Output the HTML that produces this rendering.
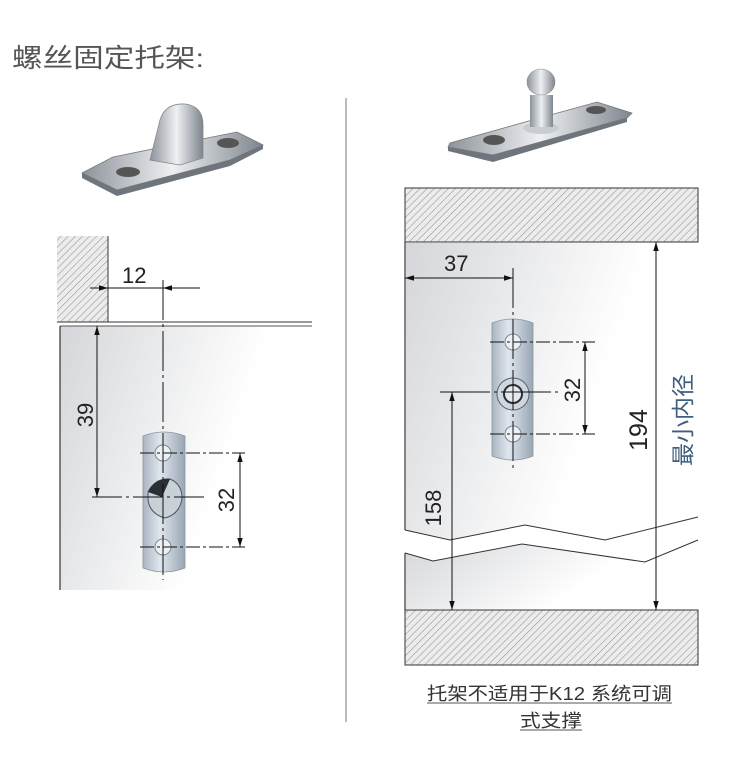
<!DOCTYPE html>
<html><head><meta charset="utf-8"><style>
html,body{margin:0;padding:0;background:#fff;}
svg{display:block;}
text{font-family:"Liberation Sans","Noto Sans CJK SC",sans-serif;}
</style></head><body>
<svg width="730" height="777" viewBox="0 0 730 777" xmlns="http://www.w3.org/2000/svg">
<defs>
<pattern id="h" width="5" height="5" patternUnits="userSpaceOnUse" patternTransform="rotate(45)">
<rect width="5" height="5" fill="#ececec"/><line x1="0" y1="0" x2="0" y2="5" stroke="#9a9a9a" stroke-width="1.2"/>
</pattern>
<linearGradient id="pg" x1="0" y1="0" x2="1" y2="0.35">
<stop offset="0" stop-color="#d4d6d9"/><stop offset="0.75" stop-color="#ffffff"/>
</linearGradient>
<linearGradient id="bg" x1="0" y1="0" x2="1" y2="0">
<stop offset="0" stop-color="#aab4c0"/><stop offset="0.4" stop-color="#dfe6ee"/><stop offset="1" stop-color="#9aa6b4"/>
</linearGradient>
<linearGradient id="mg" x1="0" y1="0" x2="1" y2="0">
<stop offset="0" stop-color="#8d939a"/><stop offset="0.5" stop-color="#eef0f2"/><stop offset="1" stop-color="#7e858d"/>
</linearGradient>
<marker id="a" viewBox="0 0 10 10" refX="10" refY="5" markerWidth="9" markerHeight="9" orient="auto-start-reverse" markerUnits="userSpaceOnUse">
<path d="M0,2 L10,5 L0,8 z" fill="#111"/></marker>
</defs>

<text x="12" y="67" font-size="26" fill="#555" textLength="192" lengthAdjust="spacingAndGlyphs">螺丝固定托架:</text>

<!-- left bracket 3D -->
<polygon points="82,173 113,157 237,132 263,145 230,160 117,190" fill="url(#mg)" stroke="#777" stroke-width="0.8"/>
<polygon points="82,173 117,190 230,160 263,145 263,149 230,166 117,196 82,178" fill="#6f757c"/>
<ellipse cx="128" cy="172" rx="12" ry="5" fill="#555"/>
<ellipse cx="228" cy="143" rx="11" ry="5" fill="#555"/>
<path d="M150,160 L160,120 Q165,103 185,104 Q203,106 203,125 L203,158 L180,165 Z" fill="url(#mg)" stroke="#888" stroke-width="0.8"/>

<!-- left section -->
<rect x="57" y="236" width="51" height="86" fill="url(#h)"/>
<line x1="108" y1="236" x2="108" y2="322" stroke="#333" stroke-width="1"/>
<polygon points="60,326 312,326 312,590 60,590" fill="url(#pg)"/>
<line x1="57" y1="322" x2="312" y2="322" stroke="#333" stroke-width="1"/>
<line x1="60" y1="326" x2="312" y2="326" stroke="#555" stroke-width="1"/>
<line x1="60" y1="326" x2="60" y2="590" stroke="#333" stroke-width="1.2"/>

<!-- bracket front left -->
<path d="M143,436 Q164,428 185,436 L185,568 Q164,576 143,568 Z" fill="url(#bg)" stroke="#8a96a4" stroke-width="0.8"/>
<circle cx="163" cy="453" r="8" fill="#eef1f4" stroke="#7d8894"/>
<circle cx="163" cy="547" r="8" fill="#eef1f4" stroke="#7d8894"/>
<path d="M148,492 Q155,478 170,479 Q182,484 182,498 Q180,514 165,518 Q150,514 148,500 Z" fill="#c8d0d8" stroke="#4a5460"/>
<path d="M148,492 Q155,478 170,479 L162,497 Z" fill="#2a2f36"/>

<!-- left dims -->
<line x1="163" y1="280" x2="163" y2="580" stroke="#111" stroke-width="1" stroke-dasharray="40,4,3,4"/>
<line x1="90" y1="288" x2="108" y2="288" stroke="#111" marker-end="url(#a)"/>
<line x1="108" y1="288" x2="163" y2="288" stroke="#111"/>
<line x1="200" y1="288" x2="163" y2="288" stroke="#111" marker-end="url(#a)"/>
<text x="122" y="283" font-size="22" fill="#222">12</text>
<line x1="97" y1="326" x2="97" y2="497" stroke="#111" marker-start="url(#a)" marker-end="url(#a)"/>
<line x1="92" y1="497" x2="205" y2="497" stroke="#111" stroke-dasharray="30,4,3,4"/>
<text transform="translate(93,415) rotate(-90)" font-size="22" fill="#222" text-anchor="middle">39</text>
<line x1="140" y1="453" x2="245" y2="453" stroke="#111" stroke-dasharray="14,3,3,3"/>
<line x1="140" y1="547" x2="245" y2="547" stroke="#111" stroke-dasharray="14,3,3,3"/>
<line x1="240" y1="453" x2="240" y2="547" stroke="#111" marker-start="url(#a)" marker-end="url(#a)"/>
<text transform="translate(234,500) rotate(-90)" font-size="22" fill="#222" text-anchor="middle">32</text>

<!-- divider -->
<line x1="346" y1="98" x2="346" y2="722" stroke="#bbb" stroke-width="2"/>

<!-- right bracket 3D -->
<polygon points="448,147 450,143 597,102 632,113 627,118 493,155" fill="url(#mg)" stroke="#777" stroke-width="0.8"/>
<polygon points="448,147 493,155 627,118 627,122 493,162 448,151" fill="#6f757c"/>
<ellipse cx="494" cy="140" rx="11" ry="5" fill="#555"/>
<ellipse cx="596" cy="110" rx="10" ry="4" fill="#555"/>
<ellipse cx="541" cy="128" rx="18" ry="6" fill="#c9ccd0"/>
<rect x="530" y="95" width="23" height="32" fill="url(#mg)"/>
<ellipse cx="541" cy="82" rx="14" ry="13" fill="url(#mg)" stroke="#888" stroke-width="0.6"/>

<!-- right section -->
<rect x="405" y="188" width="293" height="54" fill="url(#h)" stroke="#333" stroke-width="1"/>
<rect x="405" y="610" width="293" height="55" fill="url(#h)" stroke="#333" stroke-width="1"/>
<polygon points="406,243 698,243 698,517 605,540 525,525 450,540 406,530" fill="url(#pg)"/>
<polygon points="406,553 433,561 522,544 645,562 698,540 698,609 406,609" fill="url(#pg)"/>
<line x1="405" y1="242" x2="405" y2="530" stroke="#333" stroke-width="1.2"/>
<line x1="405" y1="553" x2="405" y2="610" stroke="#333" stroke-width="1.2"/>
<polyline points="405,530 450,540 525,525 605,540 698,517" fill="none" stroke="#333" stroke-width="1"/>
<polyline points="405,553 433,561 522,544 645,562 698,540" fill="none" stroke="#333" stroke-width="1"/>

<!-- bracket front right -->
<path d="M492,323 Q513,315 533,323 L533,456 Q513,464 492,456 Z" fill="url(#bg)" stroke="#8a96a4" stroke-width="0.8"/>
<circle cx="513" cy="342" r="8" fill="#eef1f4" stroke="#7d8894"/>
<circle cx="513" cy="434" r="8" fill="#eef1f4" stroke="#7d8894"/>
<circle cx="513" cy="394" r="16" fill="#cfd6de" stroke="#55606c"/>
<circle cx="513" cy="394" r="9" fill="#e6eaee" stroke="#2a2f36" stroke-width="2"/>

<!-- right dims -->
<line x1="513" y1="268" x2="513" y2="470" stroke="#111" stroke-dasharray="40,4,3,4"/>
<line x1="405" y1="278" x2="513" y2="278" stroke="#111" marker-start="url(#a)" marker-end="url(#a)"/>
<text x="444" y="271" font-size="22" fill="#222">37</text>
<line x1="490" y1="342" x2="595" y2="342" stroke="#111" stroke-dasharray="14,3,3,3"/>
<line x1="490" y1="434" x2="595" y2="434" stroke="#111" stroke-dasharray="14,3,3,3"/>
<line x1="585" y1="342" x2="585" y2="434" stroke="#111" marker-start="url(#a)" marker-end="url(#a)"/>
<text transform="translate(580,390) rotate(-90)" font-size="22" fill="#222" text-anchor="middle">32</text>
<line x1="440" y1="392" x2="560" y2="392" stroke="#111" stroke-dasharray="50,4,3,4"/>
<line x1="452" y1="392" x2="452" y2="610" stroke="#111" marker-start="url(#a)" marker-end="url(#a)"/>
<text transform="translate(441,508) rotate(-90)" font-size="22" fill="#222" text-anchor="middle">158</text>
<line x1="656" y1="242" x2="656" y2="610" stroke="#111" marker-start="url(#a)" marker-end="url(#a)"/>
<text transform="translate(647,430) rotate(-90)" font-size="25" fill="#222" text-anchor="middle">194</text>
<text transform="translate(691,420) rotate(-90)" font-size="23" fill="#3f5f7f" text-anchor="middle">最小内径</text>

<!-- caption -->
<text x="427" y="700" font-size="18" fill="#333" textLength="245" lengthAdjust="spacingAndGlyphs">托架不适用于K12 系统可调</text>
<line x1="427" y1="703" x2="672" y2="703" stroke="#555" stroke-width="1"/>
<text x="520" y="727" font-size="18" fill="#333" textLength="62" lengthAdjust="spacingAndGlyphs">式支撑</text>
<line x1="520" y1="730" x2="582" y2="730" stroke="#555" stroke-width="1"/>
</svg>
</body></html>
